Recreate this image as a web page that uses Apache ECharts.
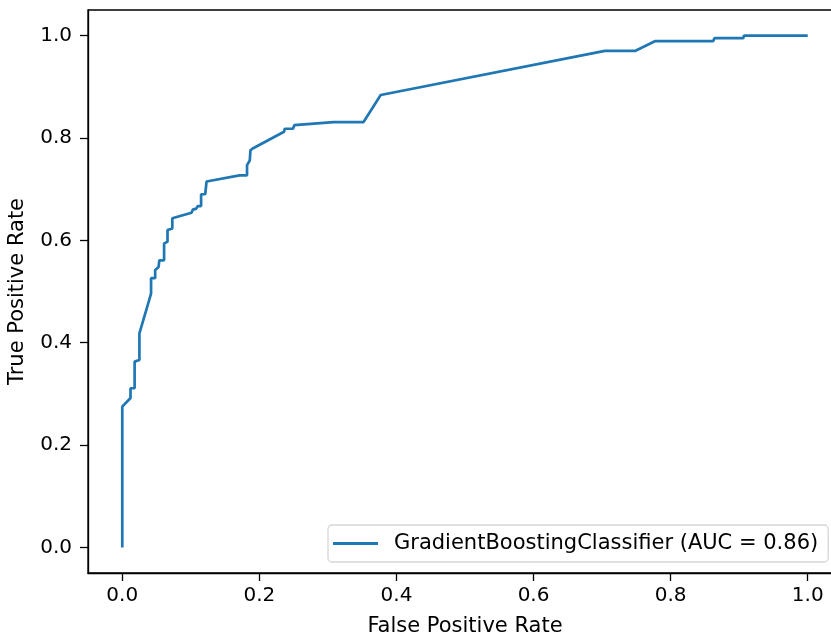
<!DOCTYPE html>
<html>
<head>
<meta charset="utf-8">
<script src="https://cdn.jsdelivr.net/npm/echarts@6/dist/echarts.min.js"></script>
<style>
  html, body { margin: 0; padding: 0; background: #fff; }
  #roc { width: 831px; height: 637px; }
</style>
</head>
<body>
<div id="roc"></div>
<script>
// ROC curve points
const fpr = [0, 0, 0.012, 0.012, 0.018, 0.018, 0.025, 0.025, 0.042, 0.042, 0.048, 0.048,
  0.053, 0.054, 0.061, 0.061, 0.066, 0.066, 0.073, 0.073, 0.101, 0.103, 0.108, 0.110,
  0.115, 0.115, 0.121, 0.123, 0.171, 0.182, 0.182, 0.186, 0.187, 0.191, 0.236, 0.237,
  0.249, 0.251, 0.308, 0.352, 0.377, 0.704, 0.748, 0.777, 0.862, 0.864, 0.906, 0.907, 1.0]
const tpr = [0, 0.275, 0.292, 0.311, 0.311, 0.363, 0.366, 0.418, 0.496, 0.526, 0.526, 0.542,
  0.548, 0.561, 0.561, 0.594, 0.597, 0.620, 0.623, 0.643, 0.654, 0.660, 0.662, 0.667,
  0.667, 0.690, 0.690, 0.715, 0.727, 0.727, 0.747, 0.756, 0.776, 0.780, 0.812, 0.818,
  0.818, 0.825, 0.831, 0.831, 0.884, 0.970, 0.970, 0.989, 0.989, 0.995, 0.995, 1.0, 1.0]
const xTicks = [0, 0.2, 0.4, 0.6, 0.8, 1.0]
const yTicks = [0, 0.2, 0.4, 0.6, 0.8, 1.0]
const seriesName = 'GradientBoostingClassifier (AUC = 0.86)'

const font = 'DejaVu Sans'
const black = '#000'

const chart = echarts.init(document.getElementById('roc'), null, { renderer: 'canvas' })

function axisCommon (ticks) {
  return {
    type: 'value',
    min: -0.05,
    max: 1.05,
    splitLine: { show: false },
    axisLine: { show: true, onZero: false, lineStyle: { color: black, width: 1.3 } },
    axisTick: {
      show: true,
      inside: false,
      length: 8,
      customValues: ticks,
      lineStyle: { color: black, width: 1.3 }
    },
    axisLabel: {
      customValues: ticks,
      formatter: v => v.toFixed(1),
      color: black,
      fontSize: 20,
      fontFamily: font
    },
    nameLocation: 'middle',
    nameTextStyle: { color: black, fontSize: 21, fontFamily: font }
  }
}

const xAxis = axisCommon(xTicks)
xAxis.name = 'False Positive Rate'
xAxis.nameGap = 43
xAxis.axisLabel.margin = 13

const yAxis = axisCommon(yTicks)
yAxis.name = 'True Positive Rate'
yAxis.nameGap = 60
yAxis.axisLabel.margin = 16

const option = {
  animation: false,
  backgroundColor: '#fff',
  grid: {
    left: 88,
    top: 10,
    width: 754,
    height: 563,
    outerBoundsMode: 'none',
    containLabel: false,
    show: true,
    borderColor: black,
    borderWidth: 1.3,
    backgroundColor: 'transparent'
  },
  xAxis: xAxis,
  yAxis: yAxis,
  legend: {
    data: [{ name: seriesName, icon: 'rect' }],
    left: 328,
    top: 525,
    itemWidth: 45,
    itemHeight: 3,
    padding: [8, 10, 8, 5],
    backgroundColor: '#fff',
    borderColor: '#d6d6d6',
    borderWidth: 1.3,
    borderRadius: 4,
    textStyle: {
      color: black,
      fontSize: 21,
      fontFamily: font,
      padding: [0, 0, 0, 11]
    }
  },
  series: [{
    name: seriesName,
    type: 'line',
    showSymbol: false,
    symbol: 'none',
    lineStyle: { color: '#1f77b4', width: 2.7 },
    itemStyle: { color: '#1f77b4' },
    data: fpr.map((x, i) => [x, tpr[i]])
  }]
}

chart.setOption(option)
</script>
</body>
</html>
